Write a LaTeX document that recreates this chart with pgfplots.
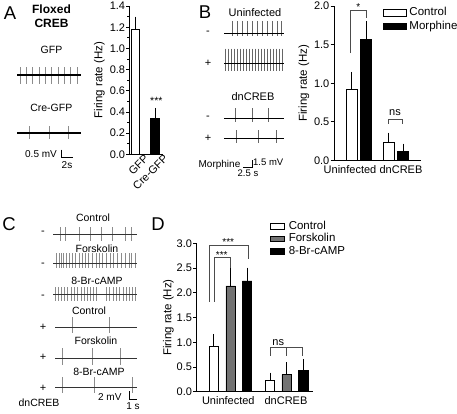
\documentclass[border=0pt]{standalone}
\usepackage{fontspec}
\setmainfont{Liberation Sans}
\usepackage{pgfplots}
\pgfplotsset{compat=1.18}
\newcommand{\fs}[1]{\fontsize{#1}{#1}\selectfont}
\newcommand{\spikes}[4]{\pgfplotsinvokeforeach{#4}{\addplot[spk,#1] coordinates {(##1,#2) (##1,#3)};}}
\pgfplotsset{
  spk/.style={black!45, line width=0.6pt, mark=none},
  base/.style={black, line width=0.8pt, mark=none},
  sbar/.style={black, line width=0.8pt, mark=none},
  brk/.style={black!70, line width=0.8pt, mark=none},
  barax/.style={
    scale only axis, clip=false,
    axis x line*=bottom, axis y line*=left,
    axis line style={-, line width=0.8pt},
    tick style={black, line width=0.8pt},
    tick align=outside, major tick length=3.5pt, minor tick length=2pt,
    xtick style={draw=none},
    /pgf/number format/assume math mode=true,
    yticklabel={\fs{11}\pgfmathprintnumber[fixed,fixed zerofill,precision=1,assume math mode=true]{\tick}},
    yticklabel style={inner sep=1pt},
    xticklabel style={inner sep=1pt},
    ylabel={\fs{11.5}Firing rate (Hz)},
    every axis y label/.style={at={([xshift=-30pt]axis description cs:0,0.5)}, rotate=90, anchor=center},
    ymin=0,
    legend cell align=left,
  },
  errb/.style={error bars/.cd, y dir=plus, y explicit, error bar style={line width=0.8pt, black, solid}, error mark options={black, line width=0.8pt, mark size=3pt}},
}
\begin{document}
\begin{tikzpicture}
\useasboundingbox (0,0) rectangle (457pt,-414pt);
% ---------------- traces and labels ----------------
\begin{axis}[at={(0pt,0pt)}, anchor=north west, scale only axis, width=457pt, height=414pt,
  xmin=0, xmax=457, ymin=0, ymax=414, y dir=reverse, hide axis, clip=false]
% Panel A traces
\spikes{}{67}{84}{20.7,26.7,32.7,39,45.3,51.7,58,64.3,70.7,77}
\addplot[base, line width=1.6pt] coordinates {(17,75) (81,75)};
\spikes{}{126}{139}{29.3,49,68.3}
\addplot[base, line width=1.6pt] coordinates {(17,133) (81,133)};
\addplot[sbar] coordinates {(61,149.5) (61,157) (73,157)};
% Panel B traces
\spikes{black!60}{21}{36}{232.7,237.7,242.7,247.7,252.7,257.7,262.7,267.7,272.7,277.7,281.7}
\addplot[base] coordinates {(224,33.3) (284,33.3)};
\spikes{black!60}{48.5}{70.5}{225.5,228.6,231.5,234.7,237.5,240.6,243.5,246.7,249.5,252.6,255.5,258.7,261.5,264.6,267.5,270.7,273.5,276.6,279.5,282.5}
\addplot[base] coordinates {(224,63.3) (284,63.3)};
\spikes{black!60}{108}{122}{235,252.3,268.3}
\addplot[base] coordinates {(224,118) (284,118)};
\spikes{black!60}{130}{143}{236.7,258.3,276.7}
\addplot[base] coordinates {(224,138) (284,138)};
\addplot[sbar] coordinates {(243,167) (252,167) (252,160)};
% Panel C traces
\spikes{}{227}{241}{60,65,79,90,101,112,125,131}
\addplot[base, black!80] coordinates {(53,234) (137,234)};
\spikes{}{253}{268}{56.5,59,61,63,66,69,72.5,75,79,82,85.5,88,92,96,99,102.5,106,110,113,117,121,125,129,131.5,135}
\addplot[base, black!80] coordinates {(53,263) (137,263)};
\spikes{}{287}{301}{55,58,61,64,67.5,71,74,77.5,81,84,87,90,93,96.5,106,109.5,113,116,119.5,123,126,129,132,135}
\addplot[base, black!80] coordinates {(53,294) (137,294)};
\spikes{}{317}{333}{72,109.5}
\addplot[base, black!80] coordinates {(55,327) (137,327)};
\spikes{}{348}{365}{62,92,120.5}
\addplot[base, black!80] coordinates {(55,358) (137,358)};
\spikes{}{377}{393}{62,94,132.5}
\addplot[base, black!80] coordinates {(55,387) (137,387)};
\addplot[sbar] coordinates {(129,391) (129,399) (137,399)};
% text
\node[font=\fs{18.5}] at (axis cs:10,13.5) {A};
\node[font=\fs{12}\bfseries] at (axis cs:51.5,9.5) {Floxed};
\node[font=\fs{12}\bfseries] at (axis cs:51.5,23.5) {CREB};
\node[font=\fs{10.5}] at (axis cs:51.5,49.5) {GFP};
\node[font=\fs{10.5}] at (axis cs:51.3,107.5) {Cre-GFP};
\node[font=\fs{10}] at (axis cs:41,154) {0.5 mV};
\node[font=\fs{10}] at (axis cs:67,165.5) {2s};
\node[font=\fs{18.5}] at (axis cs:205,12.5) {B};
\node[font=\fs{11}] at (axis cs:255,13) {Uninfected};
\node[font=\fs{11}] at (axis cs:208,33) {-};
\node[font=\fs{11}] at (axis cs:208,63) {+};
\node[font=\fs{11}] at (axis cs:253,97) {dnCREB};
\node[font=\fs{11}] at (axis cs:208,118) {-};
\node[font=\fs{11}] at (axis cs:208,138) {+};
\node[font=\fs{10}] at (axis cs:219.5,165) {Morphine};
\node[font=\fs{9.5}, anchor=west, inner sep=0.5pt] at (axis cs:252.5,162) {1.5 mV};
\node[font=\fs{9.5}] at (axis cs:248,173.5) {2.5 s};
\node[font=\fs{18.5}] at (axis cs:9,224) {C};
\node[font=\fs{10.5}] at (axis cs:93,218) {Control};
\node[font=\fs{10.5}] at (axis cs:97,249) {Forskolin};
\node[font=\fs{10.5}] at (axis cs:97,281) {8-Br-cAMP};
\node[font=\fs{10.5}] at (axis cs:89,311) {Control};
\node[font=\fs{10.5}] at (axis cs:96,341) {Forskolin};
\node[font=\fs{10.5}] at (axis cs:99,372) {8-Br-cAMP};
\node[font=\fs{11}] at (axis cs:43,233) {-};
\node[font=\fs{11}] at (axis cs:43,265) {-};
\node[font=\fs{11}] at (axis cs:43,297) {-};
\node[font=\fs{11}] at (axis cs:43,327) {+};
\node[font=\fs{11}] at (axis cs:43,357) {+};
\node[font=\fs{11}] at (axis cs:43,388) {+};
\node[font=\fs{10.5}] at (axis cs:39,403) {dnCREB};
\node[font=\fs{10}, anchor=east] at (axis cs:125,397) {2 mV};
\node[font=\fs{10}] at (axis cs:133,406) {1 s};
\node[font=\fs{18.5}] at (axis cs:158,224) {D};
\end{axis}
% ---------------- Panel A bars ----------------
\begin{axis}[barax, at={(129.3pt,-154.3pt)}, anchor=south west, width=34pt, height=148.3pt,
  xmin=0, xmax=34, ymax=1.4, ytick={0,0.2,0.4,0.6,0.8,1.0,1.2,1.4}, minor y tick num=1,
  major tick length=3pt,
  xtick={6.2,25.7}, xticklabels={{\fs{11}GFP},{\fs{11}Cre-GFP}}, xticklabel style={rotate=45, anchor=north east, xshift=9.5pt, yshift=-2pt}]
\addplot[ybar, bar width=8.5pt, bar shift=0pt, fill=white, draw=black, line width=0.8pt, errb] coordinates {(6.2,1.18) +- (0,0.092)};
\addplot[ybar, bar width=8.5pt, bar shift=0pt, fill=black, draw=black, line width=0.8pt, errb] coordinates {(25.7,0.34) +- (0,0.069)};
\node[font=\fs{10.5}] at (axis cs:27,0.5) {***};
\end{axis}
% ---------------- Panel B bars ----------------
\begin{axis}[barax, at={(334pt,-160.5pt)}, anchor=south west, width=86.7pt, height=154.5pt,
  xmin=0, xmax=86.7, ymax=2, ytick={0,0.5,1.0,1.5,2.0},
  xtick={16,67}, xticklabels={{\fs{11}Uninfected},{\fs{11}dnCREB}},
  legend style={at={(axis description cs:0.565,0.995)}, anchor=north west, draw=none, fill=none, inner sep=0pt, outer sep=0pt, row sep=1pt,
    nodes={inner sep=1pt, text height=8pt, text depth=2.5pt},
    /tikz/every odd column/.append style={column sep=2pt}}]
\addlegendimage{legend image code/.code={\draw[fill=white,draw=black,line width=0.8pt] (0pt,-3.2pt) rectangle (22.7pt,3.2pt);}}
\addlegendentry{\fs{11.5}Control}
\addlegendimage{legend image code/.code={\draw[fill=black,draw=black,line width=0.8pt] (0pt,-3.2pt) rectangle (22.7pt,3.2pt);}}
\addlegendentry{\fs{11.5}Morphine}
\addplot[ybar, bar width=11pt, bar shift=0pt, fill=white, draw=black, line width=0.8pt, errb] coordinates {(17.8,0.923) +- (0,0.185) (54.7,0.233) +- (0,0.09)};
\addplot[ybar, bar width=11pt, bar shift=0pt, fill=black, draw=black, line width=0.8pt, errb] coordinates {(32.2,1.57) +- (0,0.197) (69.2,0.116) +- (0,0.065)};
\addplot[brk] coordinates {(16.7,1.39) (16.7,1.94) (32,1.94) (32,1.85)};
\addplot[brk] coordinates {(54.3,0.475) (54.3,0.535) (68.7,0.535) (68.7,0.475)};
\node[font=\fs{10}] at (axis cs:24.3,1.99) {*};
\node[font=\fs{11}] at (axis cs:61,0.62) {ns};
\end{axis}
% ---------------- Panel D bars ----------------
\begin{axis}[barax, at={(196.7pt,-391.7pt)}, anchor=south west, width=116.6pt, height=148.4pt,
  xmin=0, xmax=116.6, ymax=3, ytick={0,0.5,1.0,1.5,2.0,2.5,3.0},
  every axis y label/.append style={at={([xshift=-28.4pt]axis description cs:0,0.5)}},
  xtick={31.6,89.3}, xticklabels={{\fs{11}Uninfected},{\fs{11}dnCREB}},
  legend style={at={(axis description cs:0.626,1.155)}, anchor=north west, draw=none, fill=none, inner sep=0pt, outer sep=0pt, row sep=0pt,
    nodes={inner sep=1pt, text height=8pt, text depth=2.5pt},
    /tikz/every odd column/.append style={column sep=3pt}}]
\addlegendimage{legend image code/.code={\draw[fill=white,draw=black,line width=0.8pt] (0pt,-2.8pt) rectangle (14.3pt,2.8pt);}}
\addlegendentry{\fs{11.5}Control}
\addlegendimage{legend image code/.code={\draw[fill=black!55,draw=black,line width=0.8pt] (0pt,-2.8pt) rectangle (14.3pt,2.8pt);}}
\addlegendentry{\fs{11.5}Forskolin}
\addlegendimage{legend image code/.code={\draw[fill=black,draw=black,line width=0.8pt] (0pt,-2.8pt) rectangle (14.3pt,2.8pt);}}
\addlegendentry{\fs{11.5}8-Br-cAMP}
\addplot[ybar, bar width=9.5pt, bar shift=0pt, fill=white, draw=black, line width=0.8pt, errb] coordinates {(17.1,0.924) +- (0,0.186) (73.3,0.236) +- (0,0.09)};
\addplot[ybar, bar width=9.5pt, bar shift=0pt, fill=black!55, draw=black, line width=0.8pt, errb] coordinates {(34,2.137) +- (0,0.343) (90,0.345) +- (0,0.185)};
\addplot[ybar, bar width=9.5pt, bar shift=0pt, fill=black, draw=black, line width=0.8pt, errb] coordinates {(50.3,2.238) +- (0,0.209) (106.6,0.435) +- (0,0.16)};
\addplot[brk] coordinates {(13,1.82) (13,2.966) (52,2.966) (52,2.68)};
\addplot[brk] coordinates {(17.3,1.82) (17.3,2.71) (33.3,2.71) (33.3,2.51)};
\addplot[brk] coordinates {(73.3,0.73) (73.3,0.89) (106,0.89) (106,0.73)};
\addplot[brk] coordinates {(90,0.89) (90,0.73)};
\node[font=\fs{10}] at (axis cs:31.6,3.02) {***};
\node[font=\fs{10}] at (axis cs:25,2.77) {***};
\node[font=\fs{11}] at (axis cs:81.6,0.99) {ns};
\end{axis}
\end{tikzpicture}
\end{document}
